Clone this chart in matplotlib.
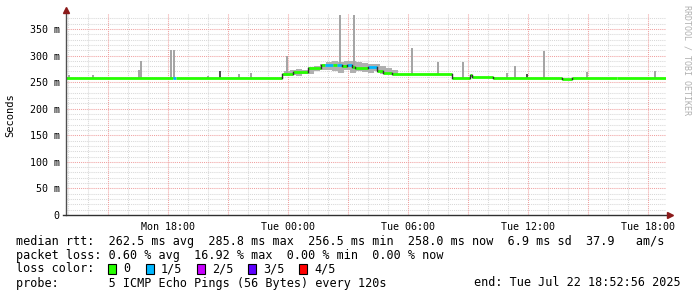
import matplotlib
matplotlib.use("Agg")
import matplotlib.pyplot as plt
from matplotlib.lines import Line2D
from matplotlib.patches import Rectangle
import numpy as np

W, H = 697, 297
MONO = "DejaVu Sans Mono"

# hours since Mon 00:00, graph covers 30 h ending Tue 18:52:56
t_end = 42 + 52 / 60 + 56 / 3600
t_start = t_end - 30

# median rtt (ms) as steps: start hour, value, lost pings out of 5
med_t = [12.88, 18.23, 18.38, 23.68, 24.23, 24.98, 25.63, 25.83, 26.23, 26.43,
         26.68, 26.93, 27.18, 27.33, 27.98, 28.43, 28.73, 29.18, 32.18, 33.08,
         33.18, 34.23, 37.68, 38.18, 40.43]
med_v = [258.5, 258.5, 258.5, 266, 269, 276, 282, 283, 282, 283,
         280, 282, 279, 276, 279, 271.5, 266.5, 265, 258.5, 263,
         260.5, 258.5, 256, 258.5, 257.5]
med_loss = [0, 1, 0, 0, 0, 0, 0, 1, 0, 1,
            0, 1, 0, 0, 1, 0, 0, 0, 0, 0,
            0, 0, 0, 0, 0]

# smoke band in the busy hours (ms)
smoke_t = [23.78, 24.08, 24.38, 24.68, 24.98, 25.28, 25.58, 25.88, 26.18, 26.48,
           26.78, 27.08, 27.38, 27.68, 27.98, 28.28, 28.58, 28.88, 29.18, 29.48]
smoke_lo = [262, 263, 262, 266, 266, 270, 273, 272, 270, 268,
            272, 268, 270, 269, 268, 270, 266, 265, 264, 264]
smoke_hi = [270, 273, 275, 272, 278, 281, 284, 287, 289, 288,
            290, 289, 288, 286, 285, 284, 281, 276, 272, 268]

# single slow pings (hour, max ms, dark)
spike_t = [13.03, 14.23, 16.53, 16.63, 18.13, 18.28, 19.98, 20.58, 21.53, 22.13,
           23.93, 26.58, 27.28, 30.18, 30.78, 31.48, 32.73, 34.93, 35.33, 35.93,
           36.78, 38.93, 42.33]
spike_v = [263, 263, 273, 290, 310, 310, 262, 271, 265, 268,
           300, 377, 377, 315, 264, 288, 288, 268, 280, 265,
           309, 269, 271]
spike_dark = [0, 0, 0, 0, 0, 0, 0, 1, 0, 0,
              0, 0, 0, 0, 0, 0, 0, 0, 0, 1,
              0, 0, 0]

loss_names = ["0", "1/5", "2/5", "3/5", "4/5"]
loss_colors = ["#26ff00", "#00b8ff", "#c800ff", "#5e00ff", "#ff0000"]

tick_hours = [18, 24, 30, 36, 42]
tick_labels = ["Mon 18:00", "Tue 00:00", "Tue 06:00", "Tue 12:00", "Tue 18:00"]

fig = plt.figure(figsize=(W / 100, H / 100), dpi=100)
fig.patch.set_facecolor("white")
ax = fig.add_axes([66 / W, 1 - 215 / H, 600 / W, 202 / H])
ax.set_xlim(t_start, t_end)
ax.set_ylim(0, 380)
for s in ax.spines.values():
    s.set_visible(False)

# grid
dot = (0, (1, 1))
for v in range(0, 380, 10):
    if v % 50:
        ax.axhline(v, color="#d8d8d8", lw=0.75, ls=dot, zorder=0)
for h in range(13, 43):
    if h % 3:
        ax.axvline(h, color="#d8d8d8", lw=0.75, ls=dot, zorder=0)
for v in range(50, 380, 50):
    ax.axhline(v, color="#f0a0a0", lw=0.75, ls=dot, zorder=0)
for h in range(15, 43, 3):
    ax.axvline(h, color="#f0a0a0", lw=0.75, ls=dot, zorder=0)

# smoke
ax.fill_between(smoke_t, smoke_lo, smoke_hi, step="post", color="#b0b0b0", lw=0, zorder=1)
med_arr = np.array(med_v)
idx = np.searchsorted(med_t, spike_t, side="right") - 1
base = med_arr[idx] - 2
tops = np.array(spike_v)
cols = ["#505050" if d else "#a5a5a5" for d in spike_dark]
ax.bar(spike_t, tops - base, bottom=base, width=0.07, color=cols, lw=0, zorder=1)

# median line coloured by loss
ends = med_t[1:] + [t_end]
for i in range(len(med_t)):
    ax.plot([med_t[i], ends[i]], [med_v[i], med_v[i]], color=loss_colors[med_loss[i]],
            lw=2.0, solid_capstyle="butt", zorder=3)
    if i > 0 and med_v[i] != med_v[i - 1]:
        ax.plot([med_t[i], med_t[i]], [med_v[i - 1], med_v[i]], color="#303030",
                lw=1.0, zorder=3)

ax.set_xticks(tick_hours)
ax.set_xticklabels(tick_labels)
ax.set_yticks(range(0, 351, 50))
ax.set_yticklabels(["0"] + [f"{v} m" for v in range(50, 351, 50)])
ax.tick_params(axis="y", length=0, labelsize=7.2, colors="#000000", pad=4.5)
ax.tick_params(axis="x", length=0, labelsize=7.2, colors="#000000", pad=5)
for lab in ax.get_xticklabels() + ax.get_yticklabels():
    lab.set_family(MONO)

# axes with arrows
def fx(x):
    return x / W
def fy(y):
    return 1 - y / H

fig.add_artist(Line2D([fx(66), fx(66)], [fy(215), fy(12)], color="#505050", lw=1))
fig.add_artist(Line2D([fx(63), fx(668)], [fy(215), fy(215)], color="#303030", lw=1))
fig.add_artist(Line2D([fx(66)], [fy(10)], marker="^", ms=4, color="#8b1a1a", lw=0))
fig.add_artist(Line2D([fx(670)], [fy(215)], marker=">", ms=4, color="#8b1a1a", lw=0))

fig.text(fx(10), fy(115), "Seconds", rotation=90, ha="center", va="center",
         family=MONO, fontsize=7.5)
fig.text(fx(687), fy(5), "RRDTOOL / TOBI OETIKER", rotation=270, ha="center", va="top",
         family=MONO, fontsize=6, color="#b0b0b0")

fs = 8.5
fig.text(fx(16), fy(241), "median rtt:  262.5 ms avg  285.8 ms max  256.5 ms min  258.0 ms now  6.9 ms sd  37.9   am/s",
         family=MONO, fontsize=fs, va="center")
fig.text(fx(16), fy(255), "packet loss: 0.60 % avg  16.92 % max  0.00 % min  0.00 % now",
         family=MONO, fontsize=fs, va="center")
fig.text(fx(16), fy(269), "loss color:", family=MONO, fontsize=fs, va="center")
box_x = [108, 146, 197, 248, 299]
for bx, name, c in zip(box_x, loss_names, loss_colors):
    fig.add_artist(Rectangle((fx(bx), fy(274)), 8 / W, 10 / H, transform=fig.transFigure,
                             facecolor=c, edgecolor="black", lw=0.8))
    fig.text(fx(bx + 15), fy(269), name, family=MONO, fontsize=fs, va="center")
fig.text(fx(16), fy(283), "probe:       5 ICMP Echo Pings (56 Bytes) every 120s",
         family=MONO, fontsize=fs, va="center")
fig.text(fx(681), fy(283), "end: Tue Jul 22 18:52:56 2025", family=MONO, fontsize=fs,
         va="center", ha="right")

fig.savefig("out.png", dpi=100)
